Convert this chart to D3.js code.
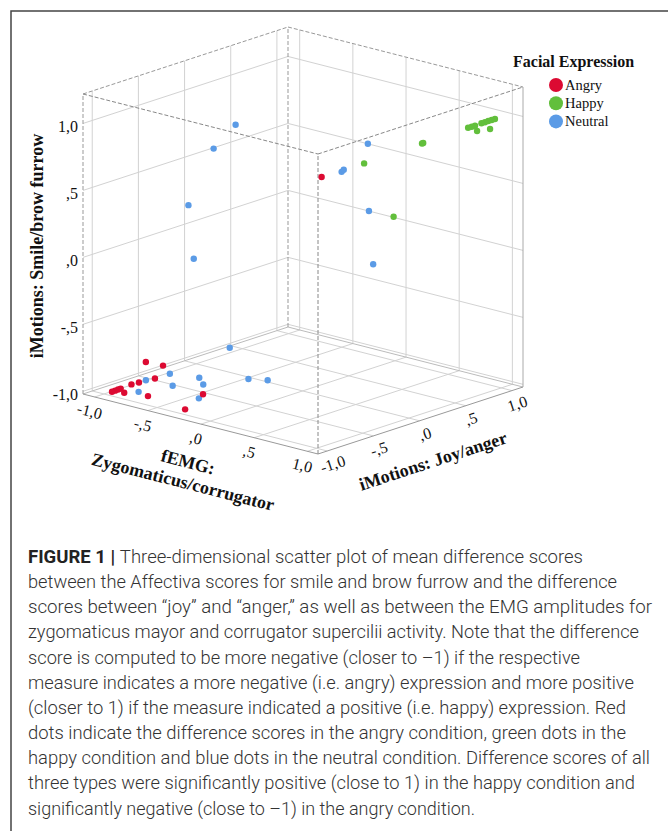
<!DOCTYPE html>
<html>
<head>
<meta charset="utf-8">
<script src="https://cdn.jsdelivr.net/npm/d3@7"></script>
<style>
body { margin: 0; background: #fff; }
svg { display: block; }
</style>
</head>
<body>
<svg id="chart" width="668" height="831"></svg>
<script>
const groups = ["Angry", "Happy", "Neutral"];
const groupColors = ["#dc0a32", "#62bf3c", "#5b9be6"];
const tickValues = [-1, -0.5, 0, 0.5, 1];

// [fEMG zygomaticus/corrugator, iMotions smile/brow furrow, iMotions joy/anger]
const angry = [
    [-0.95, -1.00, -0.97], [-0.93, -0.99, -0.96], [-0.91, -0.98, -0.95],
    [-0.89, -0.97, -0.945], [-0.87, -1.00, -0.93], [-0.75, -0.90, -0.99],
    [-0.74, -0.90, -0.92], [-0.71, -0.75, -0.88], [-0.67, -0.80, -0.74],
    [-0.72, -0.90, -0.77], [-0.69, -1.00, -0.88], [-0.32, -0.95, -0.71],
    [-0.28, -1.00, -0.95], [0.17, 0.61, 0.01]
];
const happy = [
    [0.84, 0.93, 0.825], [0.844, 0.93, 0.86], [0.845, 0.93, 0.894],
    [0.92, 0.92, 0.83], [0.883, 0.95, 0.92], [0.885, 0.95, 0.956],
    [0.904, 0.96, 0.97], [0.927, 0.97, 0.98], [0.95, 0.98, 0.989],
    [0.978, 0.93, 0.904], [0.68, 0.85, 0.51], [0.70, 0.86, 0.50],
    [0.37, 0.70, 0.24], [0.63, 0.35, 0.26]
];
const neutral = [
    [-0.39, -0.70, -0.34], [-0.61, -0.85, -0.735], [-0.74, -0.90, -0.845],
    [-0.51, -0.90, -0.82], [-0.39, -0.85, -0.67], [-0.37, -0.90, -0.65],
    [-0.70, -0.95, -0.97], [-0.385, -1.00, -0.68], [-0.11, -0.85, -0.46],
    [0.01, -0.85, -0.39], [-0.63, 0.84, 0.00], [-0.75, 0.66, -0.10],
    [-0.90, 0.23, -0.20], [-0.85, -0.16, -0.20], [0.44, 0.87, 0.20],
    [0.28, 0.65, 0.10], [0.30, 0.67, 0.10], [0.45, 0.37, 0.20],
    [0.49, -0.02, 0.20]
];

const captionLines = [
    "Three-dimensional scatter plot of mean difference scores",
    "between the Affectiva scores for smile and brow furrow and the difference",
    "scores between \u201cjoy\u201d and \u201canger,\u201d as well as between the EMG amplitudes for",
    "zygomaticus mayor and corrugator supercilii activity. Note that the difference",
    "score is computed to be more negative (closer to \u20131) if the respective",
    "measure indicates a more negative (i.e. angry) expression and more positive",
    "(closer to 1) if the measure indicated a positive (i.e. happy) expression. Red",
    "dots indicate the difference scores in the angry condition, green dots in the",
    "happy condition and blue dots in the neutral condition. Difference scores of all",
    "three types were significantly positive (close to 1) in the happy condition and",
    "significantly negative (close to \u20131) in the angry condition."
];
const captionWidths = [555, 589, 624, 611, 552, 606, 598, 598, 622, 607, 447];

const svg = d3.select("#chart");
const serif = "'Liberation Serif', 'Times New Roman', serif";

// frame around the figure
svg.append("path")
    .attr("d", "M11,831 L11,11 L668,11")
    .attr("fill", "none")
    .attr("stroke", "#444")
    .attr("stroke-width", 1.5);

// axis domains (SPSS pads a bit round -1..1)
const xDom = [-1.11, 1.10], yDom = [-1.02, 1.22], zDom = [-1.10, 1.12];
const xS = d3.scaleLinear().domain(xDom).range([0, 1]);
const yS = d3.scaleLinear().domain(yDom).range([0, 1]);
const zS = d3.scaleLinear().domain(zDom).range([0, 1]);

// oblique projection of the box
const O = [83, 394], EX = [235, 60], EZ = [205, -67], H = 300;
function project(p) {
    const u = xS(p[0]), v = yS(p[1]), w = zS(p[2]);
    return [O[0] + u * EX[0] + w * EZ[0], O[1] + u * EX[1] + w * EZ[1] - v * H];
}

const g = svg.append("g");
const [x0, x1] = xDom, [y0, y1] = yDom, [z0, z1] = zDom;

function seg(a, b, stroke, dash) {
    const pa = project(a), pb = project(b);
    g.append("line")
        .attr("x1", pa[0]).attr("y1", pa[1])
        .attr("x2", pb[0]).attr("y2", pb[1])
        .attr("stroke", stroke)
        .attr("stroke-width", 1)
        .attr("stroke-dasharray", dash || null);
}

// gridlines on floor and the two back walls
const grid = "#d2d2d2";
tickValues.forEach(t => {
    seg([t, y0, z0], [t, y0, z1], grid);
    seg([x0, y0, t], [x1, y0, t], grid);
    seg([x0, y0, t], [x0, y1, t], grid);
    seg([x0, t, z0], [x0, t, z1], grid);
    seg([t, y0, z1], [t, y1, z1], grid);
    seg([x0, t, z1], [x1, t, z1], grid);
});

// box edges
seg([x0, y0, z0], [x0, y0, z1], "#bbb");
seg([x0, y0, z1], [x1, y0, z1], "#bbb");
seg([x0, y0, z0], [x1, y0, z0], "#999");
seg([x1, y0, z0], [x1, y0, z1], "#999");
seg([x1, y0, z1], [x1, y1, z1], "#aaa");
const dash = "4,2";
seg([x0, y0, z0], [x0, y1, z0], "#999", dash);
seg([x0, y0, z1], [x0, y1, z1], "#999", dash);
seg([x1, y0, z0], [x1, y1, z0], "#888", dash);
seg([x0, y1, z0], [x0, y1, z1], "#999", dash);
seg([x0, y1, z1], [x1, y1, z1], "#999", dash);
seg([x0, y1, z0], [x1, y1, z0], "#888", dash);
seg([x1, y1, z0], [x1, y1, z1], "#888", dash);

// tick labels, SPSS style ",5" with a plain hyphen
const fmt = d => d3.format(".1f")(d)
    .replace("\u2212", "-")
    .replace(".", ",")
    .replace(/^(-?)0,/, "$1,");

tickValues.forEach(t => {
    const p = project([x0, t, z0]);
    g.append("text")
        .attr("x", p[0] - 5).attr("y", p[1] + 3)
        .attr("text-anchor", "end")
        .attr("dominant-baseline", "central")
        .attr("font-family", serif).attr("font-size", 16)
        .attr("fill", "#111")
        .text(fmt(t));
});

const angX = Math.atan2(EX[1], EX[0]) * 180 / Math.PI;
const angZ = Math.atan2(EZ[1], EZ[0]) * 180 / Math.PI;

tickValues.forEach(t => {
    const p = project([t, y0, z0]);
    const lx = p[0] - 5, ly = p[1] + 14;
    g.append("text")
        .attr("transform", `translate(${lx},${ly}) rotate(${angX})`)
        .attr("text-anchor", "middle")
        .attr("dominant-baseline", "central")
        .attr("font-family", serif).attr("font-size", 16)
        .attr("fill", "#111")
        .text(fmt(t));
});

tickValues.forEach(t => {
    const p = project([x1, y0, t]);
    const lx = p[0] + 5.5, ly = p[1] + 13;
    g.append("text")
        .attr("transform", `translate(${lx},${ly}) rotate(${angZ})`)
        .attr("text-anchor", "middle")
        .attr("dominant-baseline", "central")
        .attr("font-family", serif).attr("font-size", 16)
        .attr("fill", "#111")
        .text(fmt(t));
});

// axis titles
const titleSize = 18;
g.append("text")
    .attr("transform", "translate(37,246) rotate(-90)")
    .attr("text-anchor", "middle")
    .attr("dominant-baseline", "central")
    .attr("font-family", serif).attr("font-size", titleSize).attr("font-weight", "bold")
    .attr("fill", "#111")
    .text("iMotions: Smile/brow furrow");

g.append("text")
    .attr("transform", `translate(188,462) rotate(${angX})`)
    .attr("text-anchor", "middle")
    .attr("dominant-baseline", "central")
    .attr("font-family", serif).attr("font-size", titleSize).attr("font-weight", "bold")
    .attr("fill", "#111")
    .text("fEMG:");

g.append("text")
    .attr("transform", `translate(183,482) rotate(${angX})`)
    .attr("text-anchor", "middle")
    .attr("dominant-baseline", "central")
    .attr("font-family", serif).attr("font-size", titleSize).attr("font-weight", "bold")
    .attr("fill", "#111")
    .text("Zygomaticus/corrugator");

g.append("text")
    .attr("transform", `translate(433,461) rotate(${angZ})`)
    .attr("text-anchor", "middle")
    .attr("dominant-baseline", "central")
    .attr("font-family", serif).attr("font-size", titleSize).attr("font-weight", "bold")
    .attr("fill", "#111")
    .text("iMotions: Joy/anger");

// points
const color = d3.scaleOrdinal().domain(groups).range(groupColors);
const points = [
    ...angry.map(p => ({ p, grp: "Angry" })),
    ...happy.map(p => ({ p, grp: "Happy" })),
    ...neutral.map(p => ({ p, grp: "Neutral" }))
].sort((a, b) => zS(b.p[2]) - zS(a.p[2]));

g.selectAll("circle.pt")
    .data(points)
    .enter().append("circle")
    .attr("class", "pt")
    .attr("cx", d => project(d.p)[0])
    .attr("cy", d => project(d.p)[1])
    .attr("r", 3.2)
    .attr("fill", d => color(d.grp));

// legend
const lg = svg.append("g");
lg.append("text")
    .attr("x", 513).attr("y", 67)
    .attr("font-family", serif).attr("font-size", 16).attr("font-weight", "bold")
    .attr("fill", "#111")
    .text("Facial Expression");

const item = lg.selectAll("g.item")
    .data(groups)
    .enter().append("g")
    .attr("class", "item")
    .attr("transform", (d, i) => `translate(556,${85 + i * 18.2})`);
item.append("circle").attr("r", 7).attr("fill", d => color(d));
item.append("text")
    .attr("x", 9).attr("y", 5)
    .attr("font-family", serif).attr("font-size", 14.5)
    .attr("fill", "#111")
    .text(d => d);

// caption
const cap = svg.append("g");
captionLines.forEach((line, i) => {
    const t = cap.append("text")
        .attr("x", 28).attr("y", 563 + i * 25.15)
        .attr("font-family", "Roboto, 'Liberation Sans', Arial, sans-serif")
        .attr("font-size", 18)
        .attr("font-weight", 300)
        .attr("fill", "#333")
        .attr("textLength", captionWidths[i])
        .attr("lengthAdjust", "spacingAndGlyphs");
    if (i === 0) {
        t.append("tspan").attr("font-weight", "bold").attr("fill", "#222").text("FIGURE 1 ");
        t.append("tspan").attr("font-weight", "bold").attr("fill", "#222").text("| ");
    }
    t.append("tspan").text(line);
});
</script>
</body>
</html>
